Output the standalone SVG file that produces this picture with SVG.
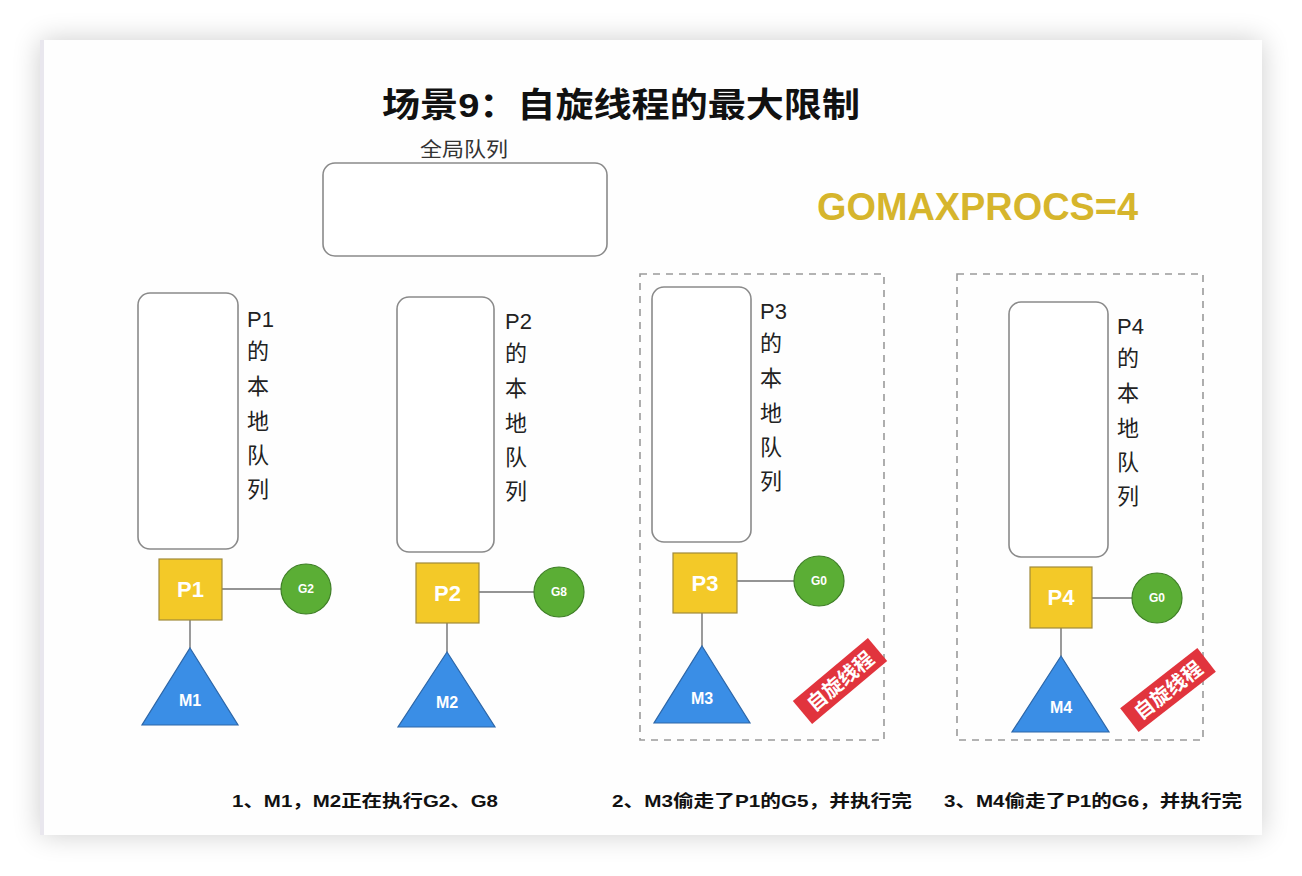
<svg xmlns="http://www.w3.org/2000/svg" width="1302" height="876" viewBox="0 0 1302 876">
<defs>
<filter id="sh" x="-10%" y="-10%" width="120%" height="120%">
<feGaussianBlur in="SourceAlpha" stdDeviation="14"/>
<feComponentTransfer><feFuncA type="linear" slope="0.2"/></feComponentTransfer>
<feMerge><feMergeNode/><feMergeNode in="SourceGraphic"/></feMerge>
</filter>
</defs>
<style>
.q{fill:#fff;stroke:#8a8a8a;stroke-width:1.6}
.dash{fill:none;stroke:#9a9a9a;stroke-width:1.6;stroke-dasharray:7 6}
.p{fill:#F3C928;stroke:#A08A3A;stroke-width:1.2}
.g{fill:#5BAE35;stroke:#3E7E26;stroke-width:1.2}
.m{fill:#3A8EE6;stroke:#2C66A8;stroke-width:1.2}
.ln{stroke:#707070;stroke-width:1.4;fill:none}
.cj{font-family:"Liberation Sans","Noto Sans CJK SC",sans-serif;fill:#222;font-size:22px}
.wb{font-family:"Liberation Sans","Noto Sans CJK SC",sans-serif;fill:#fff;font-weight:bold;text-anchor:middle}
.bt{font-family:"Liberation Sans","Noto Sans CJK SC",sans-serif;fill:#111;font-weight:bold;font-size:17px}
.tag{fill:#E1343D}
</style>
<rect x="0" y="0" width="1302" height="876" fill="#fff"/>
<rect x="40" y="40" width="1222" height="795" fill="#fefefe" filter="url(#sh)"/>
<rect x="40" y="40" width="4" height="795" fill="#e9e7ee"/>

<g id="title">
<text x="382" y="117" font-family="Liberation Sans,'Noto Sans CJK SC',sans-serif" font-weight="bold" font-size="34" fill="#111" textLength="478" lengthAdjust="spacingAndGlyphs">场景9：自旋线程的最大限制</text>
</g>

<g id="global-queue">
<text x="420" y="157" font-family="Liberation Sans,'Noto Sans CJK SC',sans-serif" font-size="20" fill="#333" textLength="88" lengthAdjust="spacingAndGlyphs">全局队列</text>
<rect class="q" x="323" y="163" width="284" height="93" rx="12"/>
</g>

<g id="gomaxprocs">
<text x="817" y="220" font-family="Liberation Sans,Arial,sans-serif" font-weight="bold" font-size="38" fill="#D6B52C" textLength="321" lengthAdjust="spacingAndGlyphs">GOMAXPROCS=4</text>
</g>

<g id="connectors">
<line class="ln" x1="222" y1="589" x2="281" y2="589"/>
<line class="ln" x1="190" y1="620" x2="190" y2="648"/>
<line class="ln" x1="479" y1="592" x2="534" y2="592"/>
<line class="ln" x1="447" y1="623" x2="447" y2="652"/>
<line class="ln" x1="737" y1="581" x2="794" y2="581"/>
<line class="ln" x1="702" y1="613" x2="702" y2="646"/>
<line class="ln" x1="1092" y1="598" x2="1132" y2="598"/>
<line class="ln" x1="1061" y1="628" x2="1061" y2="656"/>
</g>

<g id="p1-column">
<rect class="q" x="138" y="293" width="100" height="256" rx="12"/>
<text class="cj" x="247" y="327">P1</text>
<text class="cj" x="247" y="359">的</text>
<text class="cj" x="247" y="394">本</text>
<text class="cj" x="247" y="429">地</text>
<text class="cj" x="247" y="463">队</text>
<text class="cj" x="247" y="497">列</text>
</g>
<g id="P1"><rect class="p" x="159" y="559" width="63" height="61"/><text class="wb" x="190.5" y="597" font-size="22">P1</text></g>
<g id="G2"><circle class="g" cx="306" cy="589" r="25"/><text class="wb" x="306" y="593" font-size="12">G2</text></g>
<g id="M1"><polygon class="m" points="190,648 238,725 142,725"/><text class="wb" x="190" y="706" font-size="16">M1</text></g>

<g id="p2-column">
<rect class="q" x="397" y="297" width="97" height="255" rx="12"/>
<text class="cj" x="505" y="329">P2</text>
<text class="cj" x="505" y="361">的</text>
<text class="cj" x="505" y="396">本</text>
<text class="cj" x="505" y="431">地</text>
<text class="cj" x="505" y="465">队</text>
<text class="cj" x="505" y="499">列</text>
</g>
<g id="P2"><rect class="p" x="416" y="563" width="63" height="60"/><text class="wb" x="447.5" y="601" font-size="22">P2</text></g>
<g id="G8"><circle class="g" cx="559" cy="592" r="25"/><text class="wb" x="559" y="596" font-size="12">G8</text></g>
<g id="M2"><polygon class="m" points="447,652 495,727 398,727"/><text class="wb" x="447" y="708" font-size="16">M2</text></g>

<g id="p3-group">
<rect class="dash" x="640" y="274" width="244" height="466"/>
<rect class="q" x="652" y="287" width="99" height="255" rx="12"/>
<text class="cj" x="760" y="319">P3</text>
<text class="cj" x="760" y="351">的</text>
<text class="cj" x="760" y="386">本</text>
<text class="cj" x="760" y="421">地</text>
<text class="cj" x="760" y="455">队</text>
<text class="cj" x="760" y="489">列</text>
</g>
<g id="P3"><rect class="p" x="673" y="553" width="64" height="60"/><text class="wb" x="705" y="591" font-size="22">P3</text></g>
<g id="G0a"><circle class="g" cx="819" cy="581" r="25"/><text class="wb" x="819" y="585" font-size="12">G0</text></g>
<g id="M3"><polygon class="m" points="702,646 750,723 654,723"/><text class="wb" x="702" y="704" font-size="16">M3</text></g>
<g id="spin3" transform="translate(840,681) rotate(-40)">
<rect class="tag" x="-49" y="-15" width="98" height="30"/>
<text class="wb" x="0" y="7.5" font-size="20">自旋线程</text>
</g>

<g id="p4-group">
<rect class="dash" x="957" y="274" width="246" height="466"/>
<rect class="q" x="1009" y="302" width="99" height="255" rx="12"/>
<text class="cj" x="1117" y="334">P4</text>
<text class="cj" x="1117" y="366">的</text>
<text class="cj" x="1117" y="401">本</text>
<text class="cj" x="1117" y="436">地</text>
<text class="cj" x="1117" y="470">队</text>
<text class="cj" x="1117" y="504">列</text>
</g>
<g id="P4"><rect class="p" x="1030" y="567" width="62" height="61"/><text class="wb" x="1061" y="605" font-size="22">P4</text></g>
<g id="G0b"><circle class="g" cx="1157" cy="598" r="25"/><text class="wb" x="1157" y="602" font-size="12">G0</text></g>
<g id="M4"><polygon class="m" points="1061,656 1109,732 1012,732"/><text class="wb" x="1061" y="713" font-size="16">M4</text></g>
<g id="spin4" transform="translate(1168,690) rotate(-38)">
<rect class="tag" x="-49" y="-15" width="98" height="30"/>
<text class="wb" x="0" y="7.5" font-size="20">自旋线程</text>
</g>

<g id="captions">
<text class="bt" x="232" y="807" textLength="266" lengthAdjust="spacingAndGlyphs">1、M1，M2正在执行G2、G8</text>
<text class="bt" x="612" y="807" textLength="300" lengthAdjust="spacingAndGlyphs">2、M3偷走了P1的G5，并执行完</text>
<text class="bt" x="944" y="807" textLength="298" lengthAdjust="spacingAndGlyphs">3、M4偷走了P1的G6，并执行完</text>
</g>
</svg>
